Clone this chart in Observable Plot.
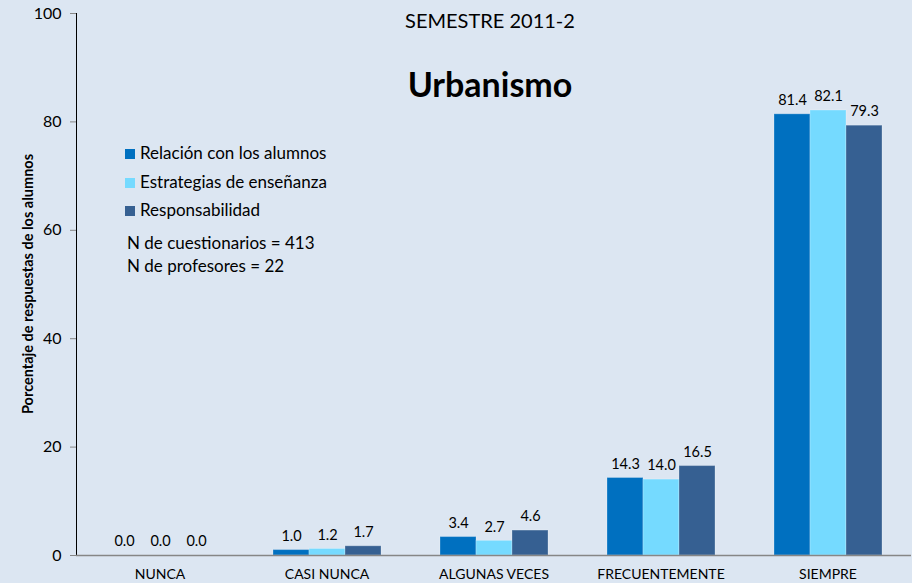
<!DOCTYPE html>
<html>
<head>
<meta charset="utf-8">
<script src="https://cdn.jsdelivr.net/npm/d3@7"></script>
<script src="https://cdn.jsdelivr.net/npm/@observablehq/plot@0.6"></script>
<style>
  html, body { margin: 0; padding: 0; background: #dce6f2; }
  #wrap { position: relative; width: 912px; height: 583px; background: #dce6f2; font-family: Lato, "Open Sans", sans-serif; overflow: hidden; }
  #chart { position: absolute; left: 0; top: 0; }
  .ov { position: absolute; white-space: nowrap; color: #000; }
  #sem { left: 0; width: 980px; top: 10px; text-align: center; font-size: 20px; line-height: 20px; }
  #title { left: 0; width: 980px; top: 67px; text-align: center; font-size: 34px; line-height: 34px; font-weight: bold; }
  .leg { left: 125px; font-size: 17px; line-height: 17px; }
  .leg i { display: inline-block; width: 10px; height: 10px; margin-right: 5px; vertical-align: 0px; }
  .nl { left: 127px; font-size: 17px; line-height: 17px; }
  #ylab { left: 27px; top: 284px; transform: translate(-50%, -50%) rotate(-90deg); font-size: 14.5px; font-weight: bold; }
  svg g[aria-label^="y-axis"] line, svg g[aria-label^="y-axis"] path { stroke: #868686; stroke-opacity: 1; }
  svg g[aria-label^="y-axis"] text { font-size: 16px; }
  svg g[aria-label^="fx-axis"] text { font-size: 14px; }
</style>
</head>
<body>
<div id="wrap">
  <div id="chart"></div>
  <div class="ov" id="sem">SEMESTRE 2011-2</div>
  <div class="ov" id="title">Urbanismo</div>
  <div id="legend"></div>
  <div class="ov nl" style="top:234px">N de cuestionarios = 413</div>
  <div class="ov nl" style="top:257px">N de profesores = 22</div>
  <div class="ov" id="ylab">Porcentaje de respuestas de los alumnos</div>
</div>
<script>
const categories = ["NUNCA", "CASI NUNCA", "ALGUNAS VECES", "FRECUENTEMENTE", "SIEMPRE"];
const series = ["Relación con los alumnos", "Estrategias de enseñanza", "Responsabilidad"];
const relacion = [0.0, 1.0, 3.4, 14.3, 81.4];
const estrategias = [0.0, 1.2, 2.7, 14.0, 82.1];
const responsabilidad = [0.0, 1.7, 4.6, 16.5, 79.3];
const yTicks = [0, 20, 40, 60, 80, 100];
const colors = ["#0070c0", "#75daff", "#366092"];

const seriesValues = [relacion, estrategias, responsabilidad];
const rows = [];
categories.forEach((c, i) => {
  series.forEach((s, j) => rows.push({cat: c, series: s, value: seriesValues[j][i]}));
});

const legend = document.getElementById("legend");
const legTops = [144, 173, 201];
series.forEach((s, j) => {
  const d = document.createElement("div");
  d.className = "ov leg";
  d.style.top = legTops[j] + "px";
  d.innerHTML = `<i style="background:${colors[j]}"></i>${s}`;
  legend.appendChild(d);
});

const chart = Plot.plot({
  width: 912,
  height: 583,
  marginLeft: 75,
  marginRight: 0,
  marginTop: 13,
  marginBottom: 28,
  style: {background: "#dce6f2", fontFamily: "Lato, 'Open Sans', sans-serif", color: "#000", overflow: "visible"},
  facet: {data: rows, x: "cat"},
  fx: {domain: categories, padding: 0, axis: "bottom", label: null, tickSize: 0, tickPadding: 14},
  x: {domain: series, axis: null, paddingInner: 0, paddingOuter: 0.76},
  y: {domain: [0, 100], ticks: yTicks, tickSize: 6, tickPadding: 9, label: null, line: true, tickFormat: d3.format("d")},
  color: {domain: series, range: colors},
  marks: [
    Plot.barY(rows, {x: "series", y: "value", fill: "series", stroke: "#ffffff", strokeOpacity: 0.25, strokeWidth: 1}),
    Plot.ruleY([0], {stroke: "#868686", strokeWidth: 1.5}),
    Plot.text(rows, {x: "series", y: "value", text: d => d.value.toFixed(1), dy: -14, fontSize: 14.5, fill: "#000"})
  ]
});
document.getElementById("chart").appendChild(chart);
</script>
</body>
</html>
